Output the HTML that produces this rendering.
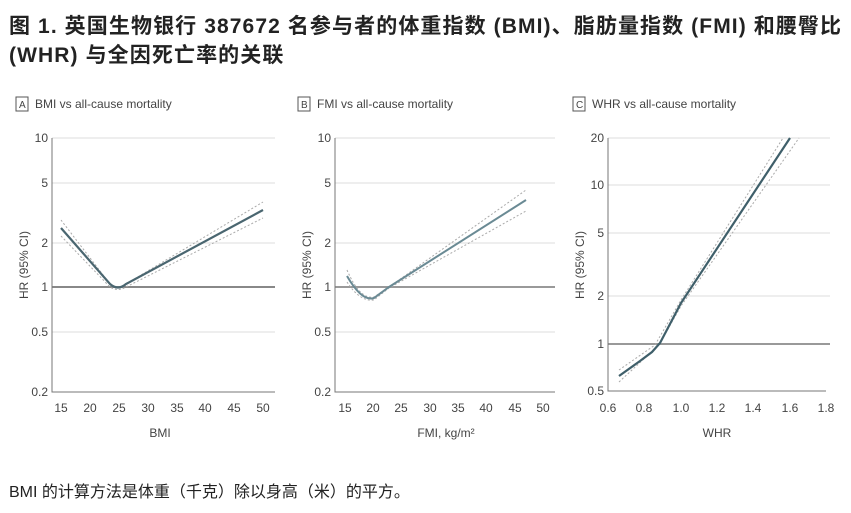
<!DOCTYPE html><html><head><meta charset="utf-8"><style>
body{margin:0;background:#fff;width:851px;height:513px;overflow:hidden;font-family:"Liberation Sans","Noto Sans CJK SC",sans-serif}
.t{position:absolute;left:9px;top:12px;font-size:21px;letter-spacing:1.1px;font-weight:bold;line-height:29px;color:#222;width:845px;white-space:nowrap}
.f{position:absolute;left:9px;top:478px;font-size:16px;color:#222}
svg{position:absolute;left:0;top:0}
text{font-family:"Liberation Sans",sans-serif;fill:#444}
</style></head><body>
<div class="t">图 1. 英国生物银行 387672 名参与者的体重指数 (BMI)、脂肪量指数 (FMI) 和腰臀比<br>(WHR) 与全因死亡率的关联</div>
<div class="f">BMI 的计算方法是体重（千克）除以身高（米）的平方。</div>
<svg width="851" height="513">
<g font-size="12">
<!-- Panel A -->
<rect x="16" y="97" width="12" height="14" fill="none" stroke="#555"/><text x="19" y="108" font-size="10">A</text>
<text x="35" y="108" font-size="12" fill="#333">BMI vs all-cause mortality</text>
<g stroke="#ddd"><line x1="52" x2="275" y1="138" y2="138"/><line x1="52" x2="275" y1="183" y2="183"/><line x1="52" x2="275" y1="243" y2="243"/><line x1="52" x2="275" y1="332" y2="332"/></g>
<line x1="52" x2="275" y1="287" y2="287" stroke="#888" stroke-width="2"/>
<path d="M52 138V392H275" fill="none" stroke="#777"/>
<g text-anchor="end" font-size="12"><text x="48" y="142">10</text><text x="48" y="187">5</text><text x="48" y="247">2</text><text x="48" y="291">1</text><text x="48" y="336">0.5</text><text x="48" y="396">0.2</text></g>
<g text-anchor="middle"><text x="61" y="412">15</text><text x="90" y="412">20</text><text x="119" y="412">25</text><text x="148" y="412">30</text><text x="177" y="412">35</text><text x="205" y="412">40</text><text x="234" y="412">45</text><text x="263" y="412">50</text><text x="160" y="437">BMI</text></g>
<text transform="translate(28,265) rotate(-90)" text-anchor="middle" font-size="12">HR (95% CI)</text>
<path d="M61 220L110 284Q118 290 126 284L263 202" fill="none" stroke="#aaa" stroke-dasharray="2 2"/>
<path d="M61 236L110 287Q118 292 126 287L263 218" fill="none" stroke="#aaa" stroke-dasharray="2 2"/>
<path d="M61 228L110 284Q118 291 126 284L263 210" fill="none" stroke="#4a6670" stroke-width="2.2"/>
<!-- Panel B -->
<rect x="298" y="97" width="12" height="14" fill="none" stroke="#555"/><text x="301" y="108" font-size="10">B</text>
<text x="317" y="108" font-size="12" fill="#333">FMI vs all-cause mortality</text>
<g stroke="#ddd"><line x1="335" x2="555" y1="138" y2="138"/><line x1="335" x2="555" y1="183" y2="183"/><line x1="335" x2="555" y1="243" y2="243"/><line x1="335" x2="555" y1="332" y2="332"/></g>
<line x1="335" x2="555" y1="287" y2="287" stroke="#999" stroke-width="2"/>
<path d="M335 138V392H555" fill="none" stroke="#777"/>
<g text-anchor="end"><text x="331" y="142">10</text><text x="331" y="187">5</text><text x="331" y="247">2</text><text x="331" y="291">1</text><text x="331" y="336">0.5</text><text x="331" y="396">0.2</text></g>
<g text-anchor="middle"><text x="345" y="412">15</text><text x="373" y="412">20</text><text x="401" y="412">25</text><text x="430" y="412">30</text><text x="458" y="412">35</text><text x="486" y="412">40</text><text x="515" y="412">45</text><text x="543" y="412">50</text><text x="446" y="437">FMI, kg/m²</text></g>
<text transform="translate(311,265) rotate(-90)" text-anchor="middle">HR (95% CI)</text>
<path d="M347 270Q360 300 374 297L389 287L526 190" fill="none" stroke="#aaa" stroke-dasharray="2 2"/>
<path d="M347 282Q360 302 374 300L389 288L526 211" fill="none" stroke="#aaa" stroke-dasharray="2 2"/>
<path d="M347 276Q362 302 374 298L389 287L526 200" fill="none" stroke="#6a8a94" stroke-width="2"/>
<!-- Panel C -->
<rect x="573" y="97" width="12" height="14" fill="none" stroke="#555"/><text x="576" y="108" font-size="10">C</text>
<text x="592" y="108" font-size="12" fill="#333">WHR vs all-cause mortality</text>
<g stroke="#ddd"><line x1="608" x2="830" y1="138" y2="138"/><line x1="608" x2="830" y1="185" y2="185"/><line x1="608" x2="830" y1="233" y2="233"/><line x1="608" x2="830" y1="296" y2="296"/></g>
<line x1="608" x2="830" y1="344" y2="344" stroke="#999" stroke-width="2"/>
<path d="M608 138V391H826" fill="none" stroke="#777"/>
<g text-anchor="end"><text x="604" y="142">20</text><text x="604" y="189">10</text><text x="604" y="237">5</text><text x="604" y="300">2</text><text x="604" y="348">1</text><text x="604" y="395">0.5</text></g>
<g text-anchor="middle"><text x="608" y="412">0.6</text><text x="644" y="412">0.8</text><text x="681" y="412">1.0</text><text x="717" y="412">1.2</text><text x="753" y="412">1.4</text><text x="790" y="412">1.6</text><text x="826" y="412">1.8</text><text x="717" y="437">WHR</text></g>
<text transform="translate(584,265) rotate(-90)" text-anchor="middle">HR (95% CI)</text>
<path d="M619 370L655 345L681 300L783 138" fill="none" stroke="#aaa" stroke-dasharray="2 2"/>
<path d="M619 382L659 345L681 306L799 138" fill="none" stroke="#aaa" stroke-dasharray="2 2"/>
<path d="M619 376L640 361L652 352L660 343L681 303L790 138" fill="none" stroke="#3f5f6a" stroke-width="2.2"/>
</g></svg></body></html>
